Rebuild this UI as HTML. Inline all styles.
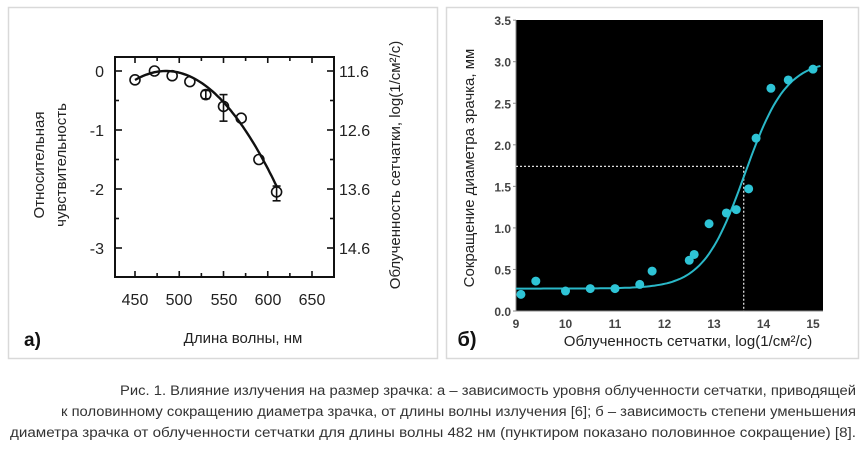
<!DOCTYPE html>
<html><head><meta charset="utf-8"><style>
html,body{margin:0;padding:0;background:#fff;}
svg{display:block;font-family:"Liberation Sans",sans-serif;}
</style></head><body>
<svg id="s" width="867" height="452" viewBox="0 0 867 452" xmlns="http://www.w3.org/2000/svg">
<rect x="0" y="0" width="867" height="452" fill="#fff"/>
<rect x="8.5" y="7.5" width="429" height="351" fill="none" stroke="#d9d9d9" stroke-width="1.5"/>
<rect x="446.5" y="7.5" width="412" height="351" fill="none" stroke="#d9d9d9" stroke-width="1.5"/>
<!-- left plot -->
<rect x="115" y="57" width="219" height="220" fill="none" stroke="#111" stroke-width="2"/>
<g id="lt" stroke="#111" stroke-width="1.6"></g>
<g font-size="16" fill="#222" text-anchor="end">
<text x="104" y="77">0</text><text x="104" y="136">-1</text><text x="104" y="195">-2</text><text x="104" y="254">-3</text>
</g>
<g font-size="16" fill="#222">
<text x="339" y="77">11.6</text><text x="339" y="136">12.6</text><text x="339" y="195">13.6</text><text x="339" y="254">14.6</text>
</g>
<g font-size="16" fill="#222" text-anchor="middle">
<text x="135" y="305">450</text><text x="179" y="305">500</text><text x="224" y="305">550</text><text x="268" y="305">600</text><text x="312" y="305">650</text>
</g>
<text x="243" y="343" font-size="15" fill="#222" text-anchor="middle">Длина волны, нм</text>
<text x="24" y="346" font-size="19" font-weight="bold" fill="#111">а)</text>
<text transform="translate(44,165) rotate(-90)" font-size="15" fill="#222" text-anchor="middle">Относительная</text>
<text transform="translate(66,165) rotate(-90)" font-size="15" fill="#222" text-anchor="middle">чувствительность</text>
<text transform="translate(400,165) rotate(-90)" font-size="15" fill="#222" text-anchor="middle">Облученность сетчатки, log(1/см²/c)</text>
<path id="lc" fill="none" stroke="#111" stroke-width="2.4"/>
<g id="lp" fill="none" stroke="#111" stroke-width="1.6"></g>
<!-- right plot -->
<rect x="516" y="20" width="307" height="291" fill="#000"/>
<line x1="516" y1="20" x2="516" y2="311" stroke="#888" stroke-width="1"/>
<line x1="516" y1="311" x2="823" y2="311" stroke="#888" stroke-width="1"/>
<g id="rt" fill="#444" font-size="12" font-weight="bold"></g>
<path id="dot" fill="none" stroke="#ddd" stroke-width="1.3" stroke-dasharray="2,2"/>
<path id="rc" fill="none" stroke="#2ab8c8" stroke-width="2"/>
<g id="rp" fill="#2ec4d6"></g>
<text x="467" y="346" font-size="20" font-weight="bold" fill="#111" text-anchor="middle">б)</text>
<text x="688" y="346" font-size="15" fill="#222" text-anchor="middle">Облученность сетчатки, log(1/см²/c)</text>
<text transform="translate(474,168) rotate(-90)" font-size="15" fill="#222" text-anchor="middle">Сокращение диаметра зрачка, мм</text>
<!-- caption -->
<g font-size="13.5" fill="#333" text-anchor="end">
<text x="856" y="395" textLength="736" lengthAdjust="spacingAndGlyphs">Рис. 1. Влияние излучения на размер зрачка: а – зависимость уровня облученности сетчатки, приводящей</text>
<text x="856" y="416" textLength="795" lengthAdjust="spacingAndGlyphs">к половинному сокращению диаметра зрачка, от длины волны излучения [6]; б – зависимость степени уменьшения</text>
<text x="856" y="437" textLength="846" lengthAdjust="spacingAndGlyphs">диаметра зрачка от облученности сетчатки для длины волны 482 нм (пунктиром показано половинное сокращение) [8].</text>
</g>
</svg>
<script>
var NS="http://www.w3.org/2000/svg";
function el(p,t,a,txt){var e=document.createElementNS(NS,t);for(var k in a)e.setAttribute(k,a[k]);if(txt!=null)e.textContent=txt;document.getElementById(p).appendChild(e);return e;}
function lx(w){return 135+(w-450)*44.25/50;}
function ly(v){return 71-v*59;}
for(var w=450;w<=650;w+=25){var x=lx(w);var L=(w%50==0)?6:4;el('lt','line',{x1:x,y1:57,x2:x,y2:57+L});el('lt','line',{x1:x,y1:277,x2:x,y2:277-L});}
for(var v=0;v>=-3.5;v-=0.5){var y=ly(v);if(y<58||y>276)continue;var L=(v%1==0)?7:4;el('lt','line',{x1:115,y1:y,x2:115+L,y2:y});el('lt','line',{x1:334,y1:y,x2:334-L,y2:y});}
var d="";for(var w=450;w<=610;w+=2){var v=-1.25e-4*Math.pow(w-485,2);d+=(w==450?"M":"L")+lx(w).toFixed(1)+","+ly(v).toFixed(1);}
document.getElementById('lc').setAttribute('d',d);
[[450,-0.15],[472,0],[492,-0.08],[512,-0.18],[530,-0.4],[550,-0.6],[570,-0.8],[590,-1.5],[610,-2.05]].forEach(function(p){el('lp','circle',{cx:lx(p[0]),cy:ly(p[1]),r:5});});
[[550,-0.4,-0.85],[610,-1.95,-2.2],[530,-0.33,-0.47]].forEach(function(e){var x=lx(e[0]);el('lp','line',{x1:x,y1:ly(e[1]),x2:x,y2:ly(e[2])});el('lp','line',{x1:x-4,y1:ly(e[1]),x2:x+4,y2:ly(e[1])});el('lp','line',{x1:x-4,y1:ly(e[2]),x2:x+4,y2:ly(e[2])});});
function rx(v){return 516+(v-9)*49.5;}
function ry(v){return 311-v*83.1;}
for(var i=0;i<=7;i++){var v=i*0.5;var y=ry(v);el('rt','text',{x:511,y:y+5,'text-anchor':'end'},v.toFixed(1));el('rt','line',{x1:513,y1:y,x2:516,y2:y,stroke:'#888'});}
for(var i=9;i<=15;i++){el('rt','text',{x:rx(i),y:328,'text-anchor':'middle'},String(i));}
document.getElementById('dot').setAttribute('d',"M516,"+ry(1.74)+"H"+rx(13.6)+"V311");
var d="";for(var x=9;x<=15.2;x+=0.05){var v=0.27+2.75/(1+Math.exp(-(x-13.62)/0.42));d+=(x==9?"M":"L")+rx(x).toFixed(1)+","+ry(v).toFixed(1);}
document.getElementById('rc').setAttribute('d',d);
[[9.1,0.2],[9.4,0.36],[10,0.24],[10.5,0.27],[11,0.27],[11.5,0.32],[11.75,0.48],[12.5,0.61],[12.6,0.68],[12.9,1.05],[13.25,1.18],[13.45,1.22],[13.7,1.47],[13.85,2.08],[14.15,2.68],[14.5,2.78],[15,2.91]].forEach(function(p){el('rp','circle',{cx:rx(p[0]),cy:ry(p[1]),r:4.5});});
</script>
</body></html>
